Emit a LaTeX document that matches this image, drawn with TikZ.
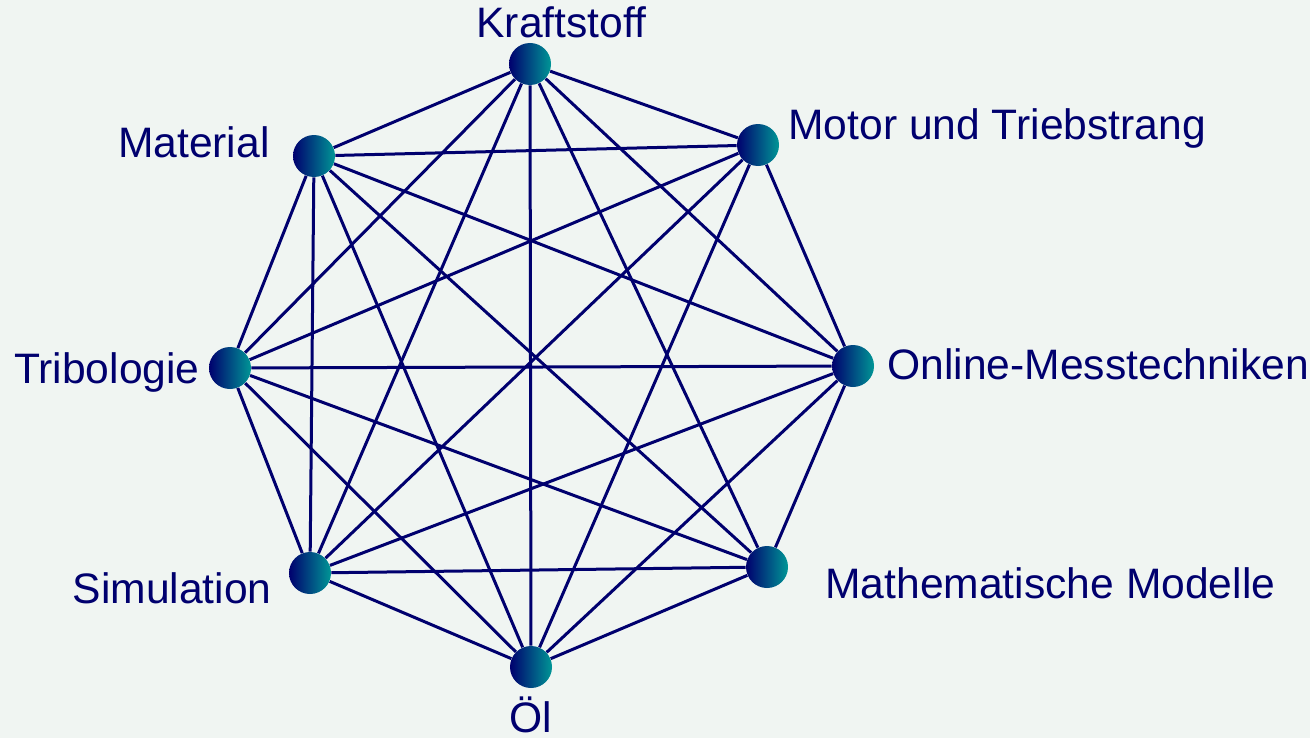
\documentclass[tikz,border=0pt]{standalone}
\usepackage{fontspec}
\setmainfont{Liberation Sans}
\usepackage{xcolor}
\usepackage{tikz}
\usetikzlibrary{positioning}

\definecolor{bgpaper}{RGB}{240,245,242}
\definecolor{navy}{RGB}{0,0,110}
\definecolor{tealdot}{RGB}{0,150,150}

\tikzset{
  dot/.style={circle,minimum size=21pt,inner sep=0pt,left color=navy,right color=tealdot},
  edge/.style={navy,line width=1.5pt},
  lbl/.style={text=navy,inner sep=0pt,font=\fontsize{21.3}{25}\selectfont}
}

\begin{document}
\begin{tikzpicture}[x=0.5pt,y=-0.5pt]
  \fill[bgpaper] (0,0) rectangle (1310,738);
  \useasboundingbox (0,0) rectangle (1310,738);

  % the eight fields
  \node[dot] (kraft)  at (530,64) {};
  \node[dot] (motor)  at (758,145) {};
  \node[dot] (online) at (853,366) {};
  \node[dot] (mathe)  at (767,567) {};
  \node[dot] (oel)    at (531,667) {};
  \node[dot] (simu)   at (310,573) {};
  \node[dot] (tribo)  at (230,368) {};
  \node[dot] (mat)    at (314,156) {};

  % links (motor--mathe is not drawn)
  \foreach \a/\b in {kraft/motor,kraft/online,kraft/mathe,kraft/oel,kraft/simu,kraft/tribo,kraft/mat,
                     motor/online,motor/oel,motor/simu,motor/tribo,motor/mat,
                     online/mathe,online/oel,online/simu,online/tribo,online/mat,
                     mathe/oel,mathe/simu,mathe/tribo,mathe/mat,
                     oel/simu,oel/tribo,oel/mat,
                     simu/tribo,simu/mat,
                     tribo/mat}
    \draw[edge] (\a) -- (\b);

  % labels
  \node[lbl,anchor=base west] (kraftL)  at (476,38)  {Kraftstoff};
  \node[lbl,anchor=base west] (motorL)  at (788,140) {Motor und Triebstrang};
  \node[lbl,anchor=base west] (onlineL) at (887,379) {Online-Messtechniken};
  \node[lbl,anchor=base west] (matheL)  at (825,598) {Mathematische Modelle};
  \node[lbl,anchor=base]      (oelL)    at (531,732) {Öl};
  \node[lbl,anchor=base east] (simuL)   at (272,603) {Simulation};
  \node[lbl,anchor=base east] (triboL)  at (200,383) {Tribologie};
  \node[lbl,anchor=base east] (matL)    at (270,157) {Material};
\end{tikzpicture}
\end{document}
